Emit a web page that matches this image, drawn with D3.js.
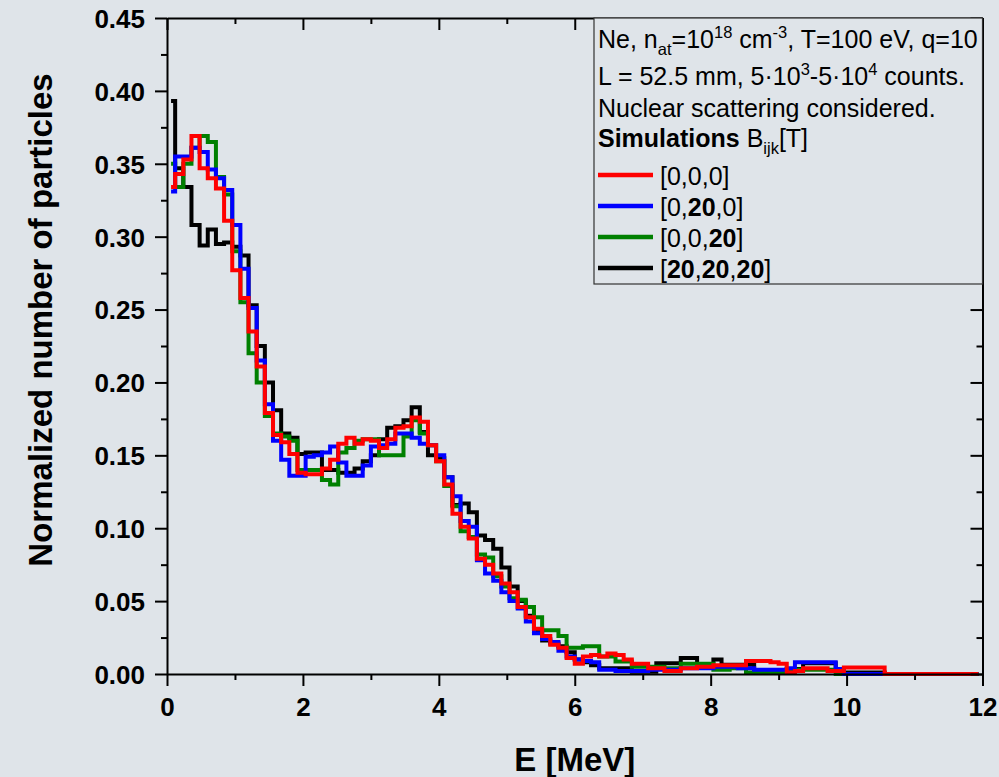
<!DOCTYPE html>
<html>
<head>
<meta charset="utf-8">
<script src="https://cdn.jsdelivr.net/npm/d3@7/dist/d3.min.js"></script>
<style>
  html, body { margin: 0; padding: 0; background: #dfe4e9; }
  svg { display: block; }
</style>
</head>
<body>
<div id="chart"></div>
<script>
// histogram bins: 100 bins of 0.12 MeV, values at bin centres
const binWidth = 0.12;
const binCount = 100;
const energyBins = d3.range(binCount).map(k => binWidth / 2 + k * binWidth);

const xTicks = [0, 2, 4, 6, 8, 10, 12];
const xMinorTicks = [1, 3, 5, 7, 9, 11];
const yTicks = [0, 0.05, 0.10, 0.15, 0.20, 0.25, 0.30, 0.35, 0.40, 0.45];
const yMinorTicks = [0.025, 0.075, 0.125, 0.175, 0.225, 0.275, 0.325, 0.375, 0.425];

// [0,0,0]
const redValues = [
  .334, .343, .353, .369, .347, .340, .333, .311, .277, .258,
  .235, .211, .179, .164, .159, .151, .138, .137, .137, .141,
  .147, .158, .162, .158, .161, .160, .155, .161, .169, .170,
  .176, .173, .157, .146, .130, .110, .101, .093, .079, .075,
  .069, .062, .056, .046, .039, .031, .026, .020, .018, .011,
  .007, .012, .013, .012, .014, .013, .010, .007, .007, .004,
  .004, .002, .002, .004, .004, .005, .005, .006, .006, .006,
  .006, .009, .009, .009, .008, .007, .001, .002, .004, .004,
  .004, .002, .002, .0045, .0045, .0045, .0045, .0045, 0, 0,
  0, 0, 0, 0, 0, 0, 0, 0, 0, 0
];

// [0,20,0]
const blueValues = [
  .331, .355, .355, .361, .358, .346, .340, .332, .308, .278,
  .251, .215, .185, .160, .147, .136, .136, .149, .150, .152,
  .156, .145, .136, .136, .143, .156, .157, .158, .165, .165,
  .162, .158, .157, .150, .135, .122, .105, .101, .078, .069,
  .064, .056, .050, .045, .036, .028, .024, .022, .016, .012,
  .010, .009, .008, .003, .003, .002, .002, .002, .002, .003,
  .003, .003, .003, .004, .004, .004, .004, .005, .005, .005,
  .004, .004, .003, .003, .003, .003, .004, .008, .008, .008,
  .008, .008, .0034, 0, 0, 0, 0, 0, 0, 0,
  0, 0, 0, 0, 0, 0, 0, 0, 0, 0
];

// [0,0,20]
const greenValues = [
  .350, .334, .350, .361, .369, .365, .341, .329, .290, .255,
  .220, .200, .177, .165, .163, .160, .140, .140, .140, .133,
  .130, .152, .155, .160, .161, .161, .150, .150, .150, .163,
  .174, .165, .157, .146, .129, .115, .098, .094, .082, .080,
  .067, .060, .052, .051, .046, .039, .030, .030, .026, .018,
  .018, .019, .019, .012, .012, .0085, .0085, .005, .005, .005,
  .005, .004, .004, .007, .007, .007, .007, .003, .003, .004,
  .004, .001, .001, .001, .001, .001, .003, .003, .003, .003,
  .003, .003, 0, 0, 0, 0, 0, 0, 0, 0,
  0, 0, 0, 0, 0, 0, 0, 0, 0, 0
];

// [20,20,20]
const blackValues = [
  .393, .347, .334, .308, .294, .305, .295, .296, .293, .287,
  .253, .225, .200, .181, .165, .162, .151, .152, .152, .140,
  .140, .138, .138, .141, .146, .150, .161, .169, .170, .174,
  .183, .166, .150, .148, .135, .116, .117, .111, .095, .092,
  .086, .073, .060, .050, .040, .029, .023, .021, .019, .015,
  .010, .008, .006, .004, .004, .004, .004, .0016, .0016, .0016,
  .0073, .0073, .0073, .011, .011, .006, .006, .010, .0064, .0064,
  .0064, .0064, .001, .001, .001, .001, .0034, .0034, .0073, .0073,
  .0073, .0073, .0034, .001, .001, .001, .001, .001, 0, 0,
  0, 0, 0, 0, 0, 0, 0, 0, 0, 0
];

// drawing order: black at the bottom, red on top
const series = [
  { name: '[20,20,20]', color: '#000000', values: blackValues },
  { name: '[0,0,20]', color: '#008000', values: greenValues },
  { name: '[0,20,0]', color: '#0000ff', values: blueValues },
  { name: '[0,0,0]', color: '#ff0000', values: redValues }
];

const legendItems = [
  { color: '#ff0000', parts: [{ t: '[0,0,0]' }] },
  { color: '#0000ff', parts: [{ t: '[0,' }, { t: '20', bold: true }, { t: ',0]' }] },
  { color: '#008000', parts: [{ t: '[0,0,' }, { t: '20', bold: true }, { t: ']' }] },
  { color: '#000000', parts: [{ t: '[' }, { t: '20', bold: true }, { t: ',' }, { t: '20', bold: true }, { t: ',' }, { t: '20', bold: true }, { t: ']' }] }
];

const width = 999, height = 777;
const plot = { left: 167, right: 982.5, top: 18, bottom: 674 };
const fontFamily = '"Liberation Sans", Arial, sans-serif';

const svg = d3.select('#chart').append('svg')
  .attr('width', width)
  .attr('height', height)
  .style('font-family', fontFamily);

svg.append('rect')
  .attr('width', width)
  .attr('height', height)
  .attr('fill', '#dfe4e9');

const x = d3.scaleLinear().domain([0, 12]).range([plot.left, plot.right]);
const y = d3.scaleLinear().domain([0, 0.45]).range([plot.bottom, plot.top]);

// curves
const line = d3.line()
  .x((d, i) => x(energyBins[i]))
  .y(d => y(d))
  .curve(d3.curveStep);

svg.append('g').selectAll('path')
  .data(series)
  .enter()
  .append('path')
  .attr('d', s => line(s.values))
  .attr('fill', 'none')
  .attr('stroke', s => s.color)
  .attr('stroke-width', 4)
  .attr('stroke-linejoin', 'miter');

// axes
function styleAxis(g) {
  g.selectAll('.domain').attr('stroke', '#000').attr('stroke-width', 2);
  g.selectAll('.tick line').attr('stroke', '#000').attr('stroke-width', 2);
  g.selectAll('.tick text')
    .attr('fill', '#000')
    .attr('font-family', fontFamily)
    .attr('font-weight', 'bold')
    .attr('font-size', 26);
}

function minorAxis(g) {
  g.select('.domain').remove();
  g.selectAll('.tick line').attr('stroke', '#000').attr('stroke-width', 2);
}

svg.append('g')
  .attr('transform', `translate(0,${plot.bottom})`)
  .call(d3.axisBottom(x).tickValues(xTicks).tickSize(12).tickSizeOuter(0).tickPadding(12))
  .call(styleAxis);
svg.append('g')
  .attr('transform', `translate(0,${plot.bottom})`)
  .call(d3.axisBottom(x).tickValues(xMinorTicks).tickSize(6).tickFormat(''))
  .call(minorAxis);

svg.append('g')
  .attr('transform', `translate(${plot.left},0)`)
  .call(d3.axisLeft(y).tickValues(yTicks).tickSize(12).tickSizeOuter(0).tickPadding(10).tickFormat(d3.format('.2f')))
  .call(styleAxis)
  .selectAll('.tick text').attr('dy', '0.36em');
svg.append('g')
  .attr('transform', `translate(${plot.left},0)`)
  .call(d3.axisLeft(y).tickValues(yMinorTicks).tickSize(6).tickFormat(''))
  .call(minorAxis);

// mirror axes, ticks pointing inwards
svg.append('g')
  .attr('transform', `translate(0,${plot.top})`)
  .call(d3.axisTop(x).tickValues(xTicks).tickSize(-12).tickSizeOuter(0).tickFormat(''))
  .call(styleAxis);
svg.append('g')
  .attr('transform', `translate(0,${plot.top})`)
  .call(d3.axisTop(x).tickValues(xMinorTicks).tickSize(-6).tickFormat(''))
  .call(minorAxis);
svg.append('g')
  .attr('transform', `translate(${plot.right},0)`)
  .call(d3.axisRight(y).tickValues(yTicks).tickSize(-12).tickSizeOuter(0).tickFormat(''))
  .call(styleAxis);
svg.append('g')
  .attr('transform', `translate(${plot.right},0)`)
  .call(d3.axisRight(y).tickValues(yMinorTicks).tickSize(-6).tickFormat(''))
  .call(minorAxis);

// axis titles
svg.append('text')
  .attr('x', (plot.left + plot.right) / 2)
  .attr('y', 771)
  .attr('text-anchor', 'middle')
  .attr('font-weight', 'bold')
  .attr('font-size', 33)
  .text('E [MeV]');

svg.append('text')
  .attr('transform', 'translate(52,320) rotate(-90)')
  .attr('text-anchor', 'middle')
  .attr('font-weight', 'bold')
  .attr('font-size', 33)
  .text('Normalized number of particles');

// legend
const legendBox = { x0: 594, x1: plot.right, y0: plot.top, y1: 284 };
const legend = svg.append('g');

legend.append('rect')
  .attr('x', legendBox.x0)
  .attr('y', legendBox.y0)
  .attr('width', legendBox.x1 - legendBox.x0)
  .attr('height', legendBox.y1 - legendBox.y0)
  .attr('fill', '#dfe4e9')
  .attr('stroke', '#333')
  .attr('stroke-width', 1.2);

const baseSize = 25, smallSize = 16.5;

// writes a line made of parts, some of them sub- or superscript
function richText(g, xPos, yPos, parts) {
  const text = g.append('text')
    .attr('x', xPos)
    .attr('y', yPos)
    .attr('font-size', baseSize)
    .attr('fill', '#000');
  let shift = 0;
  parts.forEach(p => {
    const target = p.sub ? 7 : p.sup ? -10 : 0;
    text.append('tspan')
      .attr('dy', target - shift)
      .attr('font-size', (p.sub || p.sup) ? smallSize : baseSize)
      .attr('font-weight', p.bold ? 'bold' : 'normal')
      .text(p.t);
    shift = target;
  });
  return text;
}

const textX = 598;
richText(legend, textX, 48, [
  { t: 'Ne, n' }, { t: 'at', sub: true }, { t: '=10' }, { t: '18', sup: true },
  { t: ' cm' }, { t: '-3', sup: true }, { t: ', T=100 eV, q=10' }
]);
richText(legend, textX, 85, [
  { t: 'L = 52.5 mm, 5\u00b710' }, { t: '3', sup: true }, { t: '-5\u00b710' },
  { t: '4', sup: true }, { t: ' counts.' }
]);
richText(legend, textX, 117, [{ t: 'Nuclear scattering considered.' }]);
richText(legend, textX, 147, [
  { t: 'Simulations', bold: true }, { t: ' B' }, { t: 'ijk', sub: true }, { t: '[T]' }
]);

const itemY = [175, 206, 237, 268];
legendItems.forEach((item, i) => {
  legend.append('line')
    .attr('x1', 598)
    .attr('x2', 653)
    .attr('y1', itemY[i])
    .attr('y2', itemY[i])
    .attr('stroke', item.color)
    .attr('stroke-width', 4.5);
  richText(legend, 660, itemY[i] + 10, item.parts);
});
</script>
</body>
</html>
